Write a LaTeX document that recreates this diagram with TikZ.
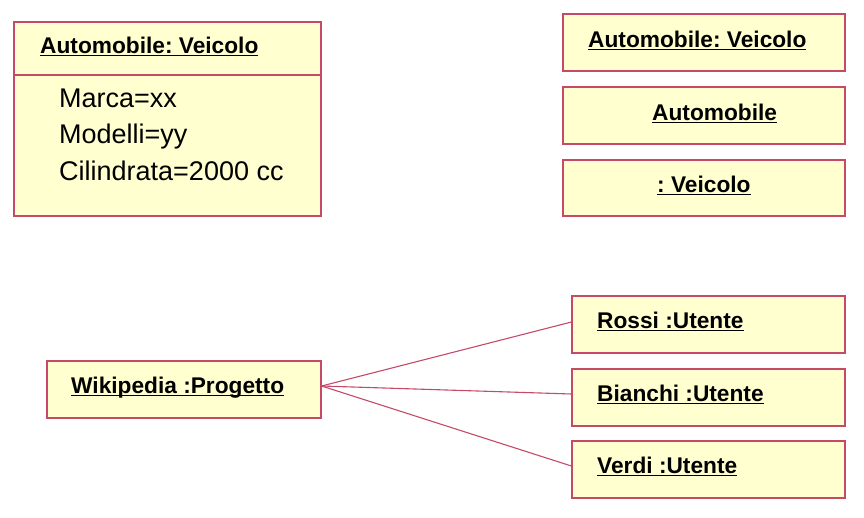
\documentclass[tikz,border=0pt]{standalone}
\usepackage{fontspec}
\setmainfont{Liberation Sans}
\frenchspacing
\definecolor{boxfill}{RGB}{255,255,208}
\definecolor{boxline}{RGB}{196,74,104}
\newcommand{\myul}[1]{\setbox0\hbox{#1}\rlap{\rule[-3.2pt]{\wd0}{1.4pt}}\box0}
\tikzset{
  objbox/.style={draw=boxline, fill=boxfill, line width=1.2pt, rectangle, inner sep=0pt},
  ttl/.style={font=\fontsize{22.7}{26}\selectfont\bfseries\frenchspacing, anchor=base west, inner sep=0pt, text=black},
  attr/.style={font=\fontsize{27}{30}\selectfont, anchor=base west, inner sep=0pt, text=black},
  link/.style={draw=boxline, line width=1.1pt}
}
\begin{document}
\begin{tikzpicture}[x=1pt,y=-1pt]
\useasboundingbox (0,0) rectangle (864,517);
% big object box
\node[objbox, minimum width=307pt, minimum height=194pt] (big) at (167.5,119) {};
\coordinate (dl) at (14,75);
\coordinate (dr) at (321,75);
\draw[draw=boxline, line width=1.2pt] (dl) -- (dr);
\node[ttl] (bigt) at (40,53) {\myul{Automobile: Veicolo}};
\node[attr] (a1) at (59,107) {Marca=xx};
\node[attr] (a2) at (59,143) {Modelli=yy};
\node[attr] (a3) at (59,180) {Cilindrata=2000 cc};
% right boxes
\node[objbox, minimum width=282pt, minimum height=57pt] (r1) at (704,42.5) {};
\node[objbox, minimum width=282pt, minimum height=57pt] (r2) at (704,115.5) {};
\node[objbox, minimum width=282pt, minimum height=56pt] (r3) at (704,188) {};
\node[ttl] (r1t) at (588,47) {\myul{Automobile: Veicolo}};
\node[ttl] (r2t) at (652,120) {\myul{Automobile}};
\node[ttl] (r3t) at (657,192) {\myul{: Veicolo}};
% bottom
\node[objbox, minimum width=274pt, minimum height=57pt] (wiki) at (184,389.5) {};
\node[ttl] (wikit) at (71,393) {\myul{Wikipedia :Progetto}};
\node[objbox, minimum width=273pt, minimum height=57pt] (rossi) at (708.5,324.5) {};
\node[objbox, minimum width=273pt, minimum height=57pt] (bianchi) at (708.5,397.5) {};
\node[objbox, minimum width=273pt, minimum height=57pt] (verdi) at (708.5,469.5) {};
\node[ttl] (rossit) at (597,328) {\myul{Rossi :Utente}};
\node[ttl] (bianchit) at (597,401) {\myul{Bianchi :Utente}};
\node[ttl] (verdit) at (597,473) {\myul{Verdi :Utente}};
\coordinate (src) at ([yshift=3.5pt]wiki.east);
\draw[link] (src) -- ([yshift=2.5pt]rossi.west);
\draw[link] (src) -- ([yshift=3.5pt]bianchi.west);
\draw[link] (src) -- ([yshift=3.5pt]verdi.west);
\end{tikzpicture}
\end{document}
